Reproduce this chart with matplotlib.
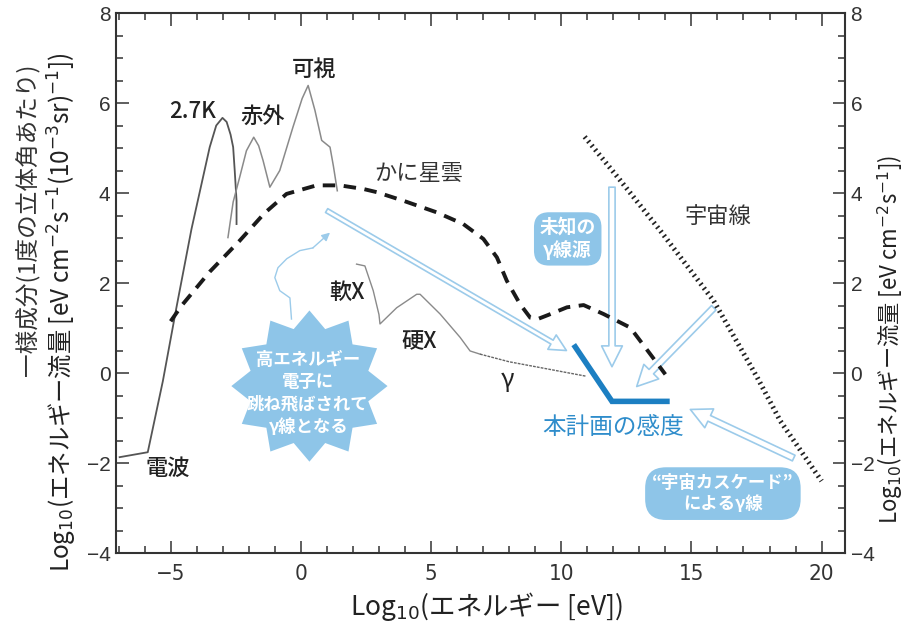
import numpy as np
import matplotlib
matplotlib.use("Agg")
import matplotlib.pyplot as plt
from matplotlib.patches import Polygon, FancyArrowPatch, ArrowStyle
from matplotlib import font_manager as fm
from matplotlib.ticker import MultipleLocator

# ---------------------------------------------------------------- fonts
_fonts = fm.fontManager.ttflist
_names = {f.name for f in _fonts}
if 'Liberation Sans Narrow' in _names:
    XTICK_FONT = dict(family='Liberation Sans Narrow')
elif any(f.name == 'DejaVu Sans' and f.stretch == 'condensed' for f in _fonts):
    XTICK_FONT = dict(family='DejaVu Sans', stretch='condensed')
else:
    XTICK_FONT = dict(family='Liberation Sans')
JP = ['Noto Sans CJK JP', 'DejaVu Sans']
plt.rcParams['font.family'] = ['Liberation Sans', 'Noto Sans CJK JP', 'DejaVu Sans']
plt.rcParams['mathtext.fontset'] = 'dejavusans'

# ---------------------------------------------------------------- spectra (log10 E [eV], log10 flux)
# radio + 2.7 K background
cmb_x = [-6.96, -5.88, -5.3, -4.78, -4.2, -3.5, -3.25, -3.01, -2.85, -2.7, -2.6, -2.54, -2.47, -2.47]
cmb_y = [-1.87, -1.76, -0.18, 1.45, 3.2, 5.02, 5.5, 5.67, 5.58, 5.3, 5.02, 4.5, 3.83, 3.31]
# infrared + visible
ir_x = [-2.8, -2.6, -2.35, -2.09, -1.81, -1.62, -1.45, -1.19, -0.81, -0.3, 0.05, 0.28, 0.54, 0.8, 1.12, 1.25, 1.4]
ir_y = [3.01, 3.8, 4.35, 4.94, 5.24, 5.05, 4.72, 4.13, 4.5, 5.47, 6.1, 6.39, 5.84, 5.17, 5.02, 4.6, 4.05]
# soft / hard X-ray
xr_x = [2.14, 2.46, 2.78, 3.0, 3.04, 3.68, 4.45, 4.58, 5.35, 6.12, 6.5, 6.88]
xr_y = [2.42, 2.38, 1.83, 1.3, 1.09, 1.45, 1.75, 1.75, 1.31, 0.79, 0.49, 0.42]
# gamma ray
gam_x = [6.88, 8.0, 9.2, 10.95]
gam_y = [0.42, 0.25, 0.12, -0.07]
# Crab nebula
crab_x = [-5.0, -4.59, -3.5, -2.35, -1.4, -0.55, 0.6, 1.5, 2.4, 2.91, 3.93, 5.22, 6.24, 7.01,
          7.53, 7.91, 8.42, 8.81, 9.1, 9.5, 10.22, 10.86, 11.63, 12.65, 13.42, 14.0]
crab_y = [1.15, 1.49, 2.25, 2.94, 3.55, 3.98, 4.17, 4.17, 4.09, 4.02, 3.83, 3.57, 3.31, 2.98,
          2.57, 2.05, 1.53, 1.23, 1.2, 1.29, 1.46, 1.51, 1.31, 1.01, 0.42, -0.03]
# cosmic rays
cr_x = [10.9, 12.27, 13.81, 15.86, 17.53, 18.42, 20.0]
cr_y = [5.25, 4.28, 3.16, 1.6, -0.1, -1.07, -2.4]
# sensitivity of this project
sens_x = [10.54, 11.95, 14.06]
sens_y = [0.58, -0.63, -0.63]

x_ticks = [-5, 0, 5, 10, 15, 20]
y_ticks = [-4, -2, 0, 2, 4, 6, 8]

# ---------------------------------------------------------------- colours
LIGHT = '#8ec5e8'
ARROW = '#9ccbea'
BLUE = '#1c7fc2'
BLUE_TXT = '#2f8dcb'

fig = plt.figure(figsize=(9.09, 6.29), dpi=100)
fig.patch.set_facecolor('white')
ax = fig.add_axes([0.1276, 0.1208, 0.8020, 0.8585])
ax.set_xlim(-7.1, 20.9)
ax.set_ylim(-4, 8)

# spectra
ax.plot(cmb_x, cmb_y, color='#555555', lw=1.3, zorder=3)
ax.plot(ir_x, ir_y, color='#8a8a8a', lw=1.1, zorder=3)
ax.plot(xr_x, xr_y, color='#8a8a8a', lw=1.0, zorder=3)
ax.plot(gam_x, gam_y, color='#666666', lw=1.0, ls=(0, (2, 0.8)), zorder=3)
ax.plot(crab_x, crab_y, color='#1a1a1a', lw=2.8, ls=(0, (3.2, 2.2)), zorder=5)
ax.plot(cr_x, cr_y, color='#222222', lw=3.6, ls=(0, (0.35, 0.75)), zorder=5)
ax.plot(sens_x, sens_y, color=BLUE, lw=4, solid_joinstyle='miter', zorder=6)


def hollow_arrow(p0, p1, tail=0.45, head=1.5, scale=10):
    style = ArrowStyle.Simple(head_length=head, head_width=head, tail_width=tail)
    ax.add_patch(FancyArrowPatch(p0, p1, arrowstyle=style, mutation_scale=scale,
                                 fc='white', ec=ARROW, lw=1.2, shrinkA=0, shrinkB=0, zorder=4))


hollow_arrow((0.99, 3.61), (10.2, 0.5), tail=0.32, head=1.2)
hollow_arrow((11.95, 4.13), (11.95, 0.14))
hollow_arrow((15.86, 1.45), (12.9, -0.3))
hollow_arrow((18.93, -1.89), (14.96, -0.81))

# inverse-Compton path from the burst up to the Crab curve
wig_x = [-0.36, -0.42, -0.81, -1.0, -0.88, -0.54, -0.04, 0.46]
wig_y = [1.20, 1.67, 1.83, 2.12, 2.34, 2.54, 2.72, 2.78]
ax.plot(wig_x, wig_y, color=ARROW, lw=1.0, zorder=4)
ax.annotate('', xy=(1.12, 3.12), xytext=(0.46, 2.78),
            arrowprops=dict(arrowstyle='-|>', color=ARROW, lw=1.0, mutation_scale=12,
                            shrinkA=0, shrinkB=0), zorder=4)

# starburst
n_pts = 12
cx, cy = 0.33, -0.29
ang = np.pi / 2 + np.arange(2 * n_pts) * np.pi / n_pts
rad = np.where(np.arange(2 * n_pts) % 2 == 0, 1.0, 0.78)
star = np.column_stack([cx + 3.0 * rad * np.cos(ang), cy + 1.68 * rad * np.sin(ang)])
ax.add_patch(Polygon(star, closed=True, fc=LIGHT, ec='none', zorder=4))
ax.text(0.27, -0.45, '高エネルギー\n電子に\n跳ね飛ばされて\nγ線となる', ha='center', va='center',
        fontsize=12.5, fontweight='bold', color='white', family=JP, linespacing=1.3, zorder=6)

# rounded boxes
ax.text(10.25, 2.98, '未知の\nγ線源', ha='center', va='center', fontsize=13.5, fontweight='bold',
        color='white', family=JP, linespacing=1.2, zorder=6,
        bbox=dict(boxstyle='round,pad=0.3,rounding_size=0.8', fc=LIGHT, ec='none'))
ax.text(16.21, -2.68, '“宇宙カスケード”\nによるγ線', ha='center', va='center', fontsize=12.5,
        fontweight='bold', color='white', family=JP, linespacing=1.2, zorder=6,
        bbox=dict(boxstyle='round,pad=0.4,rounding_size=1.2', fc=LIGHT, ec='none'))

# region labels
lab = dict(ha='center', va='center', family=JP, zorder=7)
ax.text(-4.17, 5.81, '2.7K', fontsize=16, fontweight='medium', color='#222222', **lab)
ax.text(-1.45, 5.70, '赤外', fontsize=16, fontweight='medium', color='#222222', **lab)
ax.text(0.5, 6.75, '可視', fontsize=16, fontweight='medium', color='#222222', **lab)
ax.text(4.54, 4.44, 'かに星雲', fontsize=16, color='#333333', **lab)
ax.text(1.76, 1.80, '軟X', fontsize=16, fontweight='medium', color='#222222', **lab)
ax.text(4.54, 0.69, '硬X', fontsize=16, fontweight='medium', color='#222222', **lab)
ax.text(7.95, -0.15, 'γ', fontsize=18, color='#222222', **lab)
ax.text(-5.13, -2.12, '電波', fontsize=16, fontweight='medium', color='#222222', **lab)
ax.text(16.0, 3.47, '宇宙線', fontsize=16, color='#333333', **lab)
ax.text(12.0, -1.2, '本計画の感度', fontsize=17, color=BLUE_TXT, **lab)

# axes styling
ax.xaxis.set_major_locator(plt.FixedLocator(x_ticks))
ax.xaxis.set_minor_locator(MultipleLocator(1))
ax.yaxis.set_major_locator(plt.FixedLocator(y_ticks))
ax.yaxis.set_minor_locator(MultipleLocator(0.5))
ax.tick_params(which='both', direction='in', top=True, right=True, color='#333333', width=1.1)
ax.tick_params(which='major', length=9)
ax.tick_params(which='minor', length=5)
ax.tick_params(axis='y', labelright=True, labelsize=15, labelcolor='#333333', pad=4)
ax.tick_params(axis='x', labelsize=16, labelcolor='#333333', pad=8)
for t in ax.get_xticklabels():
    t.set(**XTICK_FONT)
for sp in ax.spines.values():
    sp.set_linewidth(1.5)
    sp.set_color('#333333')

fig.text(0.535, 0.035, 'Log$_{10}$(エネルギー [eV])', ha='center', va='center',
         fontsize=19, color='#222222', family=JP)
fig.text(0.031, 0.650, '一様成分(1度の立体角あたり)', rotation=90, ha='center', va='center',
         fontsize=17, color='#333333', family=JP)
fig.text(0.069, 0.504, 'Log$_{10}$(エネルギー流量 [eV cm$^{-2}$s$^{-1}$(10$^{-3}$sr)$^{-1}$])',
         rotation=90, ha='center', va='center', fontsize=17.5, color='#222222', family=JP)
fig.text(0.979, 0.46, 'Log$_{10}$(エネルギー流量 [eV cm$^{-2}$s$^{-1}$])',
         rotation=90, ha='center', va='center', fontsize=16, color='#222222', family=JP)

fig.savefig('out.png', dpi=100, facecolor='white')
